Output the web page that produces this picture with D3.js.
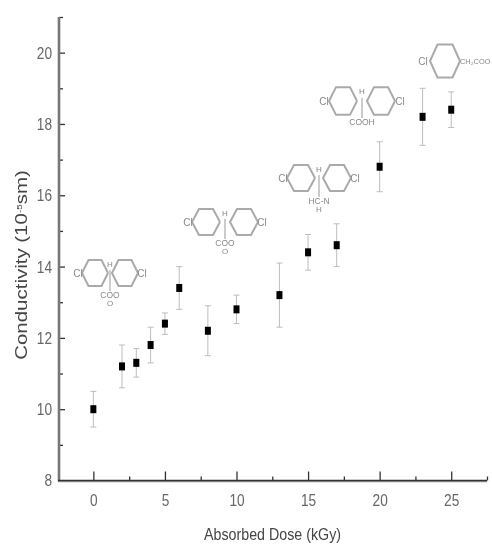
<!DOCTYPE html>
<html><head><meta charset="utf-8">
<script src="https://cdn.jsdelivr.net/npm/d3@7"></script>
<style>html,body{margin:0;padding:0;background:#fff}svg{display:block}text{font-family:"Liberation Sans",Arial,sans-serif}</style>
</head><body><div id="c"></div>
<script>
const doses=[0,2,3,4,5,6,8,10,13,15,17,20,23,25];
const conductivity=[10,11.2,11.3,11.8,12.4,13.4,12.2,12.8,13.2,14.4,14.6,16.8,18.2,18.4];
const errLow=[9.5,10.6,10.9,11.3,12.1,12.8,11.5,12.4,12.3,13.9,14.0,16.1,17.4,17.9];
const errHigh=[10.5,11.8,11.7,12.3,12.7,14.0,12.9,13.2,14.1,14.9,15.2,17.5,19.0,18.9];
const xTicks=[0,5,10,15,20,25];
const xMinor=[2.5,7.5,12.5,17.5,22.5,27.5];
const yTicks=[8,10,12,14,16,18,20];
const yMinor=[9,11,13,15,17,19,21];
const W=492,H=546;
const x=d3.scaleLinear().domain([-2.4,27.5]).range([59,487]);
const y=d3.scaleLinear().domain([8,21]).range([480.5,17]);
const svg=d3.select('#c').append('svg').attr('width',W).attr('height',H);
const defs=svg.append('defs');
defs.append('filter').attr('id','b1').append('feGaussianBlur').attr('stdDeviation',0.7);
defs.append('filter').attr('id','b2').append('feGaussianBlur').attr('stdDeviation',0.75);
const plot=svg.append('g').attr('filter','url(#b1)');
// error bars
const eb=plot.append('g').attr('stroke','#bdbdbd').attr('stroke-width',1);
doses.forEach((d,i)=>{
  eb.append('line').attr('x1',x(d)).attr('x2',x(d)).attr('y1',y(errLow[i])).attr('y2',y(errHigh[i]));
  [errLow[i],errHigh[i]].forEach(v=>eb.append('line').attr('x1',x(d)-3).attr('x2',x(d)+3).attr('y1',y(v)).attr('y2',y(v)));
});
plot.append('g').selectAll('rect').data(doses).join('rect')
  .attr('x',d=>x(d)-3).attr('width',6)
  .attr('y',(d,i)=>y(conductivity[i])-4).attr('height',8).attr('fill','#000');
// axes
const ax=plot.append('g');
const xa=ax.append('g').attr('transform',`translate(0,${y(8)})`);
xa.call(d3.axisBottom(x).tickValues(xTicks).tickSize(-9).tickPadding(13).tickFormat(d3.format('d')));
xa.select('.domain').remove();
const xm=ax.append('g').attr('transform',`translate(0,${y(8)})`);
xm.call(d3.axisBottom(x).tickValues(xMinor).tickSize(-4).tickFormat(''));
xm.select('.domain').remove();
const ya=ax.append('g').attr('transform',`translate(${x(-2.4)},0)`);
ya.call(d3.axisLeft(y).tickValues(yTicks).tickSize(-6).tickPadding(7).tickFormat(d3.format('d')));
ya.select('.domain').remove();
const ym=ax.append('g').attr('transform',`translate(${x(-2.4)},0)`);
ym.call(d3.axisLeft(y).tickValues(yMinor).tickSize(-4).tickFormat(''));
ym.select('.domain').remove();
ax.selectAll('.tick line').attr('stroke','#333').attr('stroke-width',1.3);
ax.selectAll('.tick text').attr('font-size',17).attr('fill','#666')
  .attr('lengthAdjust','spacingAndGlyphs')
  .attr('textLength',function(){return this.textContent.length*7.6;});
ax.append('line').attr('x1',x(-2.4)).attr('x2',x(-2.4)).attr('y1',y(21)).attr('y2',y(8)+1).attr('stroke','#777').attr('stroke-width',2.6);
ax.append('line').attr('x1',x(-2.4)-1).attr('x2',x(27.5)).attr('y1',y(8)+1).attr('y2',y(8)+1).attr('stroke','#999').attr('stroke-width',1.5);
ax.append('line').attr('x1',x(-2.4)-1).attr('x2',x(27.5)).attr('y1',y(8)).attr('y2',y(8)).attr('stroke','#333').attr('stroke-width',1.5);
plot.append('text').attr('x',272.5).attr('y',540).attr('text-anchor','middle').attr('font-size',17).attr('fill','#444')
  .attr('textLength',137).attr('lengthAdjust','spacingAndGlyphs').text('Absorbed Dose (kGy)');
const yl=plot.append('text').attr('transform','translate(27,265) rotate(-90) scale(1.24,1)').attr('text-anchor','middle').attr('font-size',16.5).attr('fill','#444');
yl.append('tspan').text('Conductivity (10');
yl.append('tspan').attr('font-size',8).attr('dy',-5).text('-5');
yl.append('tspan').attr('dy',5).text('sm)');
// chemical structures
const chem=svg.append('g').attr('filter','url(#b2)').attr('fill','none').attr('stroke','#aaa').attr('stroke-width',2);
const hexA=d3.range(6).map(k=>k*60);
const hex=(cx,cy,rx,ry)=>d3.line()(hexA.map(a=>[cx+rx*Math.cos(a*Math.PI/180),cy+ry*Math.sin(a*Math.PI/180)]).concat([[cx+rx,cy]]));
const label=(px,py,t,fs,anchor)=>chem.append('text').attr('x',px).attr('y',py).attr('text-anchor',anchor||'middle').attr('font-size',fs||8).attr('fill','#888').attr('stroke','none').text(t);
const mol=(cx,cy,rx,ry,sep,clOff,sub,subDy,tail)=>{
  chem.append('path').attr('d',hex(cx-sep,cy,rx,ry));
  chem.append('path').attr('d',hex(cx+sep,cy,rx,ry));
  chem.append('line').attr('x1',cx).attr('x2',cx).attr('y1',cy-ry*0.2).attr('y2',cy+subDy-7).attr('stroke-width',1.2);
  label(cx,cy-ry*0.42,'H',8);
  label(cx,cy+subDy,sub,8.5);
  if(tail) label(cx,cy+subDy+8,tail,8);
  label(cx-clOff,cy+3.5,'Cl',10);
  label(cx+clOff,cy+3.5,'Cl',10);
};
mol(110,273,13,15,15,32,'COO',25,'O');
mol(225,222,14,15,19,37,'COO',24,'O');
mol(319,178,14,15,18,36,'HC-N',26,'H');
mol(362,101,14,16,19,38,'COOH',24);
chem.append('path').attr('d',hex(445,61,15,19));
label(423,64.5,'Cl',10);
label(460,64,'CH\u2082COO',7.4,'start');
</script></body></html>
